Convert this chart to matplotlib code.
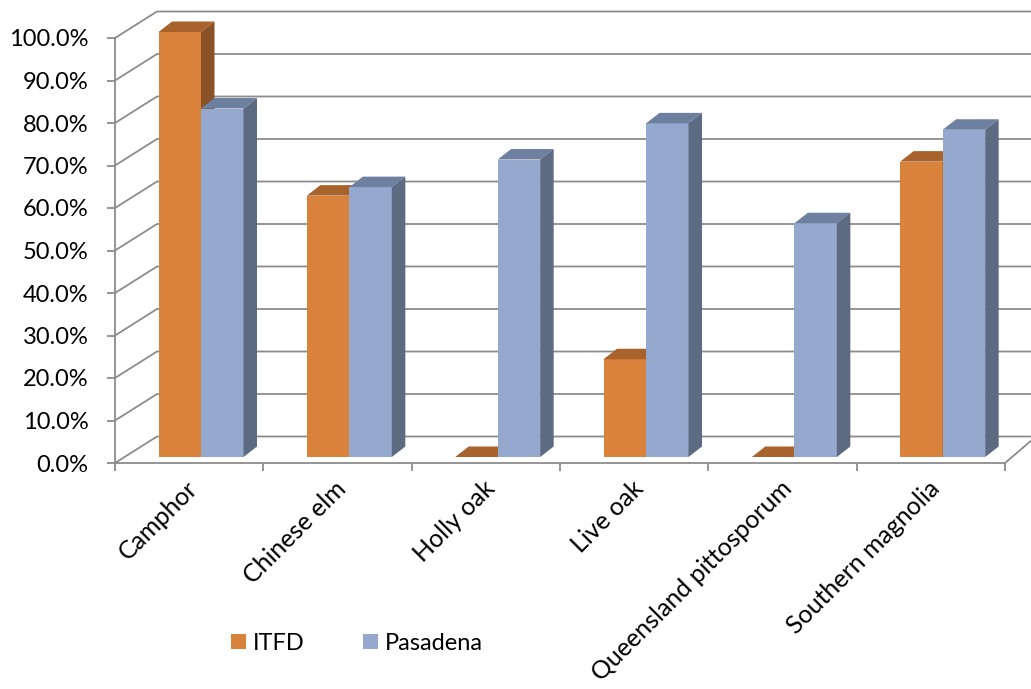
import matplotlib.pyplot as plt
from matplotlib.patches import Polygon
from matplotlib.transforms import ScaledTranslation

species = ['Camphor', 'Chinese elm', 'Holly oak', 'Live oak',
           'Queensland pittosporum', 'Southern magnolia']
itfd = [100.0, 61.5, 0.0, 23.0, 0.0, 69.5]
pasadena = [82.0, 63.5, 70.0, 78.5, 55.0, 77.0]
yticks = list(range(0, 101, 10))

W, H = 1031, 689
fig = plt.figure(figsize=(W / 100, H / 100), dpi=100)
# front plane of the 3d box: x 115..1005 px, y 463..38 px
ax = fig.add_axes([115 / W, (H - 463) / H, 890 / W, 425 / H])
ax.set_xlim(0, len(species))
ax.set_ylim(0, 100)

# pixel -> data unit factors
px = len(species) / 890
py = 100 / 425

grid_c = '#8c8c8c'
wall_dx, wall_dx_r, wall_dy = 42 * px, 31 * px, 26.5 * py

# back wall / side wall gridlines
for v in yticks:
    ax.plot([0, wall_dx, len(species) + 0.5], [v, v + wall_dy, v + wall_dy],
            color=grid_c, lw=1.3, clip_on=False, zorder=1)
# right floor edge
ax.plot([len(species), len(species) + wall_dx_r], [0, wall_dy],
        color=grid_c, lw=1.3, clip_on=False, zorder=1)

# bars
bw = 42.5 * px
x_off = 43.5 * px
base = 6 * py
dep_x, dep_y = 13.5 * px, 10.5 * py

series = [
    ('ITFD', itfd, '#d9823c', '#a8622c', '#8a5226'),
    ('Pasadena', pasadena, '#95a9cf', '#6e80a0', '#5c6a82'),
]

handles = []
for s, (name, vals, c_front, c_top, c_side) in enumerate(series):
    lefts = [i + x_off + s * bw for i in range(len(species))]
    bars = ax.bar(lefts, vals, width=bw, bottom=base, align='edge',
                  color=c_front, edgecolor='none', label=name, clip_on=False)
    handles.append(bars)
    for i, (rect, x0, v) in enumerate(zip(bars, lefts, vals)):
        # later categories / series sit in front of earlier ones
        z = 3 + i * 4 + s * 2
        rect.set_zorder(z)
        top = base + v
        x1 = x0 + bw
        ax.add_patch(Polygon([(x0, top), (x1, top), (x1 + dep_x, top + dep_y),
                              (x0 + dep_x, top + dep_y)], closed=True,
                             facecolor=c_top, edgecolor='none', zorder=z + 0.5,
                             clip_on=False))
        if v > 0:
            ax.add_patch(Polygon([(x1, base), (x1, top), (x1 + dep_x, top + dep_y),
                                  (x1 + dep_x, base + dep_y)], closed=True,
                                 facecolor=c_side, edgecolor='none', zorder=z + 0.5,
                                 clip_on=False))

for side in ['top', 'right']:
    ax.spines[side].set_visible(False)
for side in ['left', 'bottom']:
    ax.spines[side].set_color(grid_c)
    ax.spines[side].set_linewidth(1.3)
    ax.spines[side].set_zorder(2)

font = 'Lato'
ax.set_yticks(yticks)
ax.set_yticklabels([f'{v:.1f}%' for v in yticks], fontsize=17, family=font)
ax.tick_params(axis='y', length=6, width=1.3, color=grid_c, pad=13)

ax.set_xticks(range(len(species) + 1))
ax.set_xticklabels([])
ax.set_xticks([i + 0.5 for i in range(len(species))], minor=True)
ax.set_xticklabels(species, minor=True, rotation=45, ha='right',
                   rotation_mode='anchor', fontsize=18, family=font)
ax.tick_params(axis='x', which='major', length=6, width=1.3, color=grid_c)
ax.tick_params(axis='x', which='minor', length=0, pad=10)
shift = ScaledTranslation(-3 / 100, 0, fig.dpi_scale_trans)
for lab in ax.get_xticklabels(minor=True):
    lab.set_transform(lab.get_transform() + shift)

fig.legend(handles=handles, labels=['ITFD', 'Pasadena'], loc='center',
           bbox_to_anchor=(357 / W, 1 - 643 / H), ncol=2, frameon=False,
           prop={'family': font, 'size': 17}, handlelength=0.62,
           handleheight=0.62, handletextpad=0.3, columnspacing=2.5)

fig.savefig('out.png', dpi=100)
